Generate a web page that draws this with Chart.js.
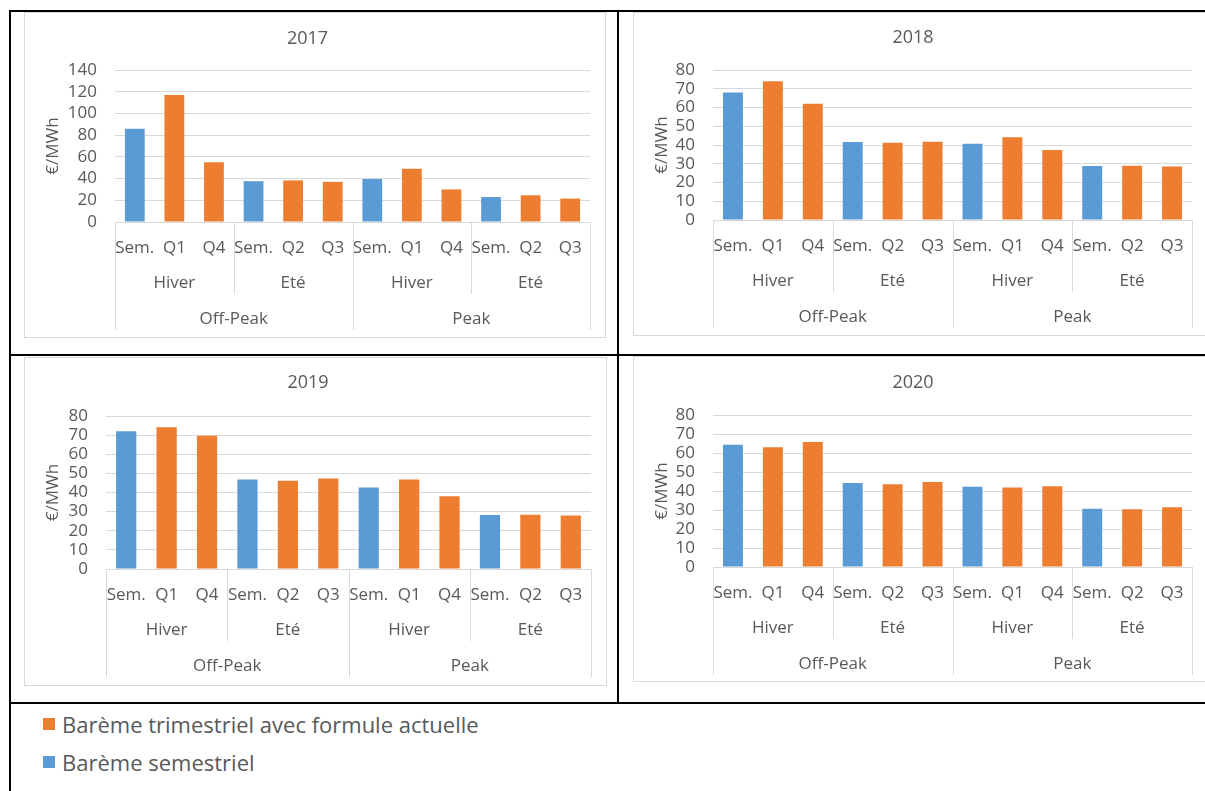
<!DOCTYPE html>
<html>
<head>
<meta charset="utf-8">
<script src="https://cdn.jsdelivr.net/npm/chart.js@4"></script>
<style>
  body { margin: 0; background: #fff; font-family: 'Open Sans', sans-serif; }
  #page { position: relative; width: 1205px; height: 791px; overflow: hidden; }
  .rule { position: absolute; background: #000; }
  .box { position: absolute; border: 1px solid #d9d9d9; box-sizing: border-box; }
  .box canvas { display: block; }
  .legend { position: absolute; left: 43px; height: 28px; line-height: 28px; font-size: 22px; color: #595959; display: flex; align-items: center; white-space: nowrap; }
  .swatch { width: 12px; height: 12px; margin-right: 7px; }
</style>
</head>
<body>
<div id="page">
  <div class="box" id="box0"><canvas id="chart0"></canvas></div>
  <div class="box" id="box1"><canvas id="chart1"></canvas></div>
  <div class="box" id="box2"><canvas id="chart2"></canvas></div>
  <div class="box" id="box3"><canvas id="chart3"></canvas></div>

  <div class="rule" style="left:9px; top:10px; width:1196px; height:2px;"></div>
  <div class="rule" style="left:9px; top:10px; width:2px; height:781px;"></div>
  <div class="rule" style="left:617px; top:10px; width:2px; height:694px;"></div>
  <div class="rule" style="left:9px; top:354px; width:1196px; height:2px;"></div>
  <div class="rule" style="left:9px; top:702px; width:1196px; height:2px;"></div>

  <div class="legend" style="top:710px;"><span class="swatch" id="sw0"></span><span id="lg0"></span></div>
  <div class="legend" style="top:748px;"><span class="swatch" id="sw1"></span><span id="lg1"></span></div>
</div>

<script>
'use strict'

const years = ['2017', '2018', '2019', '2020'];
const quarters = ['Sem.', 'Q1', 'Q4', 'Sem.', 'Q2', 'Q3', 'Sem.', 'Q1', 'Q4', 'Sem.', 'Q2', 'Q3'];
const seasons = ['Hiver', 'Eté', 'Hiver', 'Eté'];
const periods = ['Off-Peak', 'Peak'];
const seriesNames = ['Barème trimestriel avec formule actuelle', 'Barème semestriel'];

const semestriel2017 = [86, 37.6, 39.5, 23];
const trimestriel2017 = [117, 55, 38.3, 37, 49, 30, 24.6, 21.6];
const semestriel2018 = [68, 41.6, 40.7, 28.8];
const trimestriel2018 = [74, 62, 41.2, 41.8, 44.1, 37.3, 29, 28.5];
const semestriel2019 = [72, 46.8, 42.6, 28.2];
const trimestriel2019 = [74.1, 69.7, 46.1, 47.3, 46.8, 38.1, 28.4, 28];
const semestriel2020 = [64.4, 44.2, 42.3, 30.7];
const trimestriel2020 = [63, 65.8, 43.5, 44.7, 41.9, 42.5, 30.4, 31.4];

const yMax = [140, 80, 80, 80];
const yStep = [20, 10, 10, 10];

const semestriel = [semestriel2017, semestriel2018, semestriel2019, semestriel2020];
const trimestriel = [trimestriel2017, trimestriel2018, trimestriel2019, trimestriel2020];

const orange = '#ed7d31';
const blue = '#5b9bd5';
const textGrey = '#595959';
const lineGrey = '#d9d9d9';

// where each chart frame sits on the page
const frames = [
    { left: 24, top: 12, width: 582, height: 326, plotLeft: 90, plotTop: 57, padRight: 15, axisH: 115, titleY: 26 },
    { left: 633, top: 12, width: 574, height: 324, plotLeft: 79, plotTop: 57, padRight: 14, axisH: 115, titleY: 25 },
    { left: 24, top: 357, width: 583, height: 329, plotLeft: 81, plotTop: 58, padRight: 15, axisH: 116, titleY: 25 },
    { left: 633, top: 356, width: 574, height: 326, plotLeft: 79, plotTop: 58, padRight: 14, axisH: 114, titleY: 26 }
];

Chart.defaults.font.family = "'Open Sans', sans-serif";
Chart.defaults.color = textGrey;

document.getElementById('sw0').style.background = orange;
document.getElementById('sw1').style.background = blue;
document.getElementById('lg0').textContent = seriesNames[0];
document.getElementById('lg1').textContent = seriesNames[1];

function spread(sem, tri) {
    let s = 0;
    let t = 0;
    const semData = [];
    const triData = [];
    for (let i = 0; i < quarters.length; i++) {
        if (quarters[i] === 'Sem.') {
            semData.push(sem[s++]);
            triData.push(null);
        } else {
            semData.push(null);
            triData.push(tri[t++]);
        }
    }
    return [semData, triData];
}

// multi level category axis (season / period rows with separators)
const groupAxis = {
    id: 'groupAxis',
    afterDraw(chart) {
        const x = chart.scales.x;
        const ctx = chart.ctx;
        const base = chart.chartArea.bottom;
        const n = quarters.length;
        const edge = i => {
            if (i === 0) return x.left;
            if (i === n) return x.right;
            return (x.getPixelForValue(i - 1) + x.getPixelForValue(i)) / 2;
        };
        ctx.save();
        ctx.strokeStyle = lineGrey;
        ctx.lineWidth = 1;
        for (let i = 0; i <= n; i += 3) {
            const px = Math.round(edge(i)) + 0.5;
            const len = (i % 6 === 0) ? 108 : 72;
            ctx.beginPath();
            ctx.moveTo(px, base);
            ctx.lineTo(px, base + len);
            ctx.stroke();
        }
        ctx.fillStyle = textGrey;
        ctx.font = "17px 'Open Sans', sans-serif";
        ctx.textAlign = 'center';
        ctx.textBaseline = 'middle';
        for (let g = 0; g < seasons.length; g++) {
            ctx.fillText(seasons[g], (edge(g * 3) + edge(g * 3 + 3)) / 2, base + 61);
        }
        for (let p = 0; p < periods.length; p++) {
            ctx.fillText(periods[p], (edge(p * 6) + edge(p * 6 + 6)) / 2, base + 97);
        }
        ctx.restore();
    }
};

function renderChart(k) {
    const f = frames[k];
    const box = document.getElementById('box' + k);
    box.style.left = f.left + 'px';
    box.style.top = f.top + 'px';
    box.style.width = f.width + 'px';
    box.style.height = f.height + 'px';
    const canvas = document.getElementById('chart' + k);
    canvas.width = f.width - 2;
    canvas.height = f.height - 2;

    const [semData, triData] = spread(semestriel[k], trimestriel[k]);

    new Chart(canvas, {
        type: 'bar',
        data: {
            labels: quarters,
            datasets: [{
                label: seriesNames[0],
                data: triData,
                backgroundColor: orange,
                grouped: false,
                barPercentage: 0.5,
                categoryPercentage: 1
            }, {
                label: seriesNames[1],
                data: semData,
                backgroundColor: blue,
                grouped: false,
                barPercentage: 0.5,
                categoryPercentage: 1
            }]
        },
        options: {
            responsive: false,
            animation: false,
            layout: { padding: { top: 0, left: 0, right: f.padRight, bottom: 0 } },
            plugins: {
                legend: { display: false },
                tooltip: { enabled: false },
                title: {
                    display: true,
                    text: years[k],
                    color: textGrey,
                    font: { size: 18, weight: 'normal', lineHeight: 1.2 },
                    padding: { top: f.titleY - 10.8, bottom: f.plotTop - f.titleY - 10.8 }
                }
            },
            scales: {
                x: {
                    grid: { display: false },
                    border: { display: false },
                    ticks: { autoSkip: false, maxRotation: 0, padding: 8, color: textGrey, font: { size: 17 } },
                    afterFit: s => { s.height = f.axisH; }
                },
                y: {
                    min: 0,
                    max: yMax[k],
                    grid: { color: lineGrey, drawTicks: false },
                    border: { display: false },
                    ticks: { stepSize: yStep[k], autoSkip: false, maxTicksLimit: 20, padding: 18, color: textGrey, font: { size: 17, lineHeight: 1 } },
                    title: {
                        display: true,
                        text: '€/MWh',
                        color: textGrey,
                        font: { size: 17 },
                        padding: { top: 17.8, bottom: 0 }
                    },
                    afterFit: s => { s.width = f.plotLeft; }
                }
            }
        },
        plugins: [groupAxis]
    });
}

for (let k = 0; k < years.length; k++) {
    renderChart(k);
}
</script>
</body>
</html>
